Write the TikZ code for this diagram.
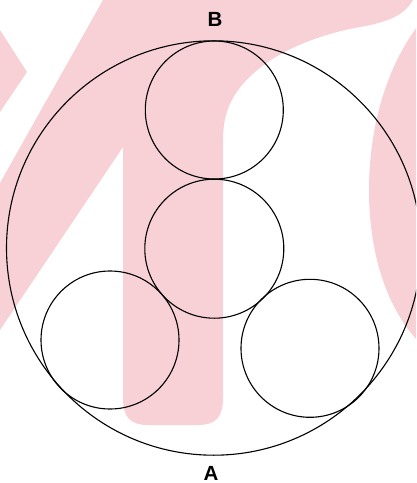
\documentclass[tikz,border=0pt]{standalone}
\usepackage{fontspec}
\setmainfont{Liberation Sans}
\definecolor{wm}{RGB}{247,209,213}
\begin{document}
\begin{tikzpicture}[x=1pt,y=-1pt,
  ring/.style={draw=black,line width=1.1pt},
  lab/.style={font=\fontsize{20.5}{22}\selectfont\bfseries,inner sep=0pt}]
\useasboundingbox (0,0) rectangle (416,483);
\clip (0,0) rectangle (416,483);
% watermark
\fill[wm] (0,30) -- (27,72) -- (0,112) -- cycle;
\fill[wm] (0,183) -- (103,0) -- (413,0)
  .. controls (405,14) and (390,22) .. (360,27)
  .. controls (320,34) and (280,50) .. (255,72)
  .. controls (232,92) and (223,112) .. (223,140)
  -- (223,398) .. controls (223,418) and (215,425) .. (198,425)
  -- (148,425) .. controls (131,425) and (123,418) .. (123,398)
  -- (123,147) -- (0,330) -- cycle;
\fill[wm] (417,27) .. controls (385,70) and (369,130) .. (369,190)
  .. controls (369,250) and (385,305) .. (417,340) -- cycle;
% circles
\draw[ring] (213.7,248) circle[radius=207.2];
\draw[ring] (214.3,110) circle[radius=69];
\draw[ring] (214.3,248.7) circle[radius=69.5];
\draw[ring] (110,340) circle[radius=69];
\draw[ring] (310,348.3) circle[radius=69];
% labels
\node[lab] (B) at (215,19.5) {B};
\node[lab] (A) at (211,473) {A};
\end{tikzpicture}
\end{document}
